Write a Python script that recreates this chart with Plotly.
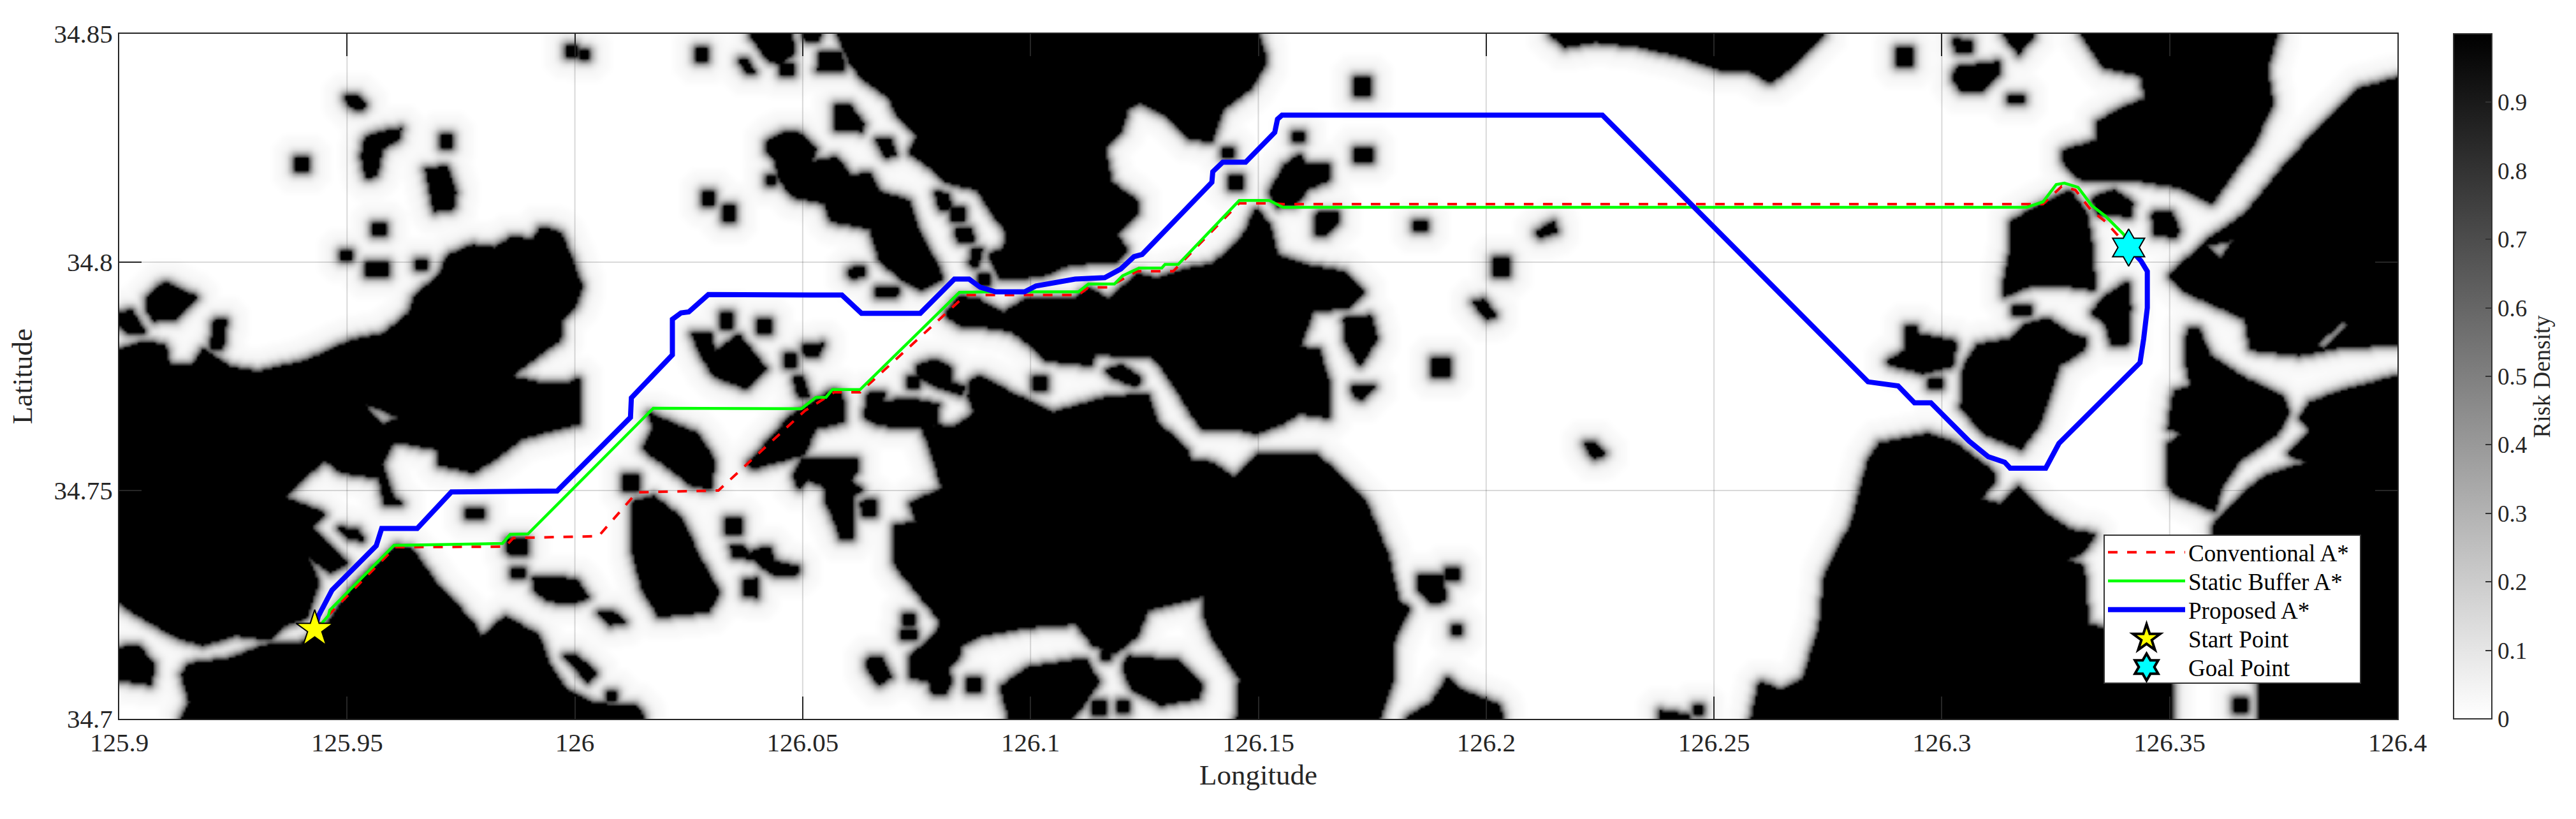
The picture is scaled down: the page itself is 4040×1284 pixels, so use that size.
"""
Risk density map with three A* routes between two points off the Korean coast.

Land outlines and routes were read off the picture, as (x, y) in thousandths of
a degree from the lower left corner of the map (125.9 E, 34.7 N).
"""

import numpy as np
import plotly.graph_objects as go

LON_ORIGIN = 125.9
LAT_ORIGIN = 34.7
LON_TICKS = [125.9, 125.95, 126, 126.05, 126.1, 126.15, 126.2, 126.25, 126.3, 126.35, 126.4]
LAT_TICKS = [34.7, 34.75, 34.8, 34.85]
RISK_TICKS = [0, 0.1, 0.2, 0.3, 0.4, 0.5, 0.6, 0.7, 0.8, 0.9]

# risk by number of grid cells away from the shore
SHORE_RISK = [1, 0.6, 0.36, 0.2, 0.11, 0.06, 0.04, 0.03, 0.025, 0.02, 0.015]

WEST_LAND = [
    (0, 81), (5, 82.6), (10, 82), (11, 77.4), (16, 77.4), (18.4, 81), (24.5, 77), (30.5, 76),
    (41.3, 78.6), (51, 83), (58, 84.3), (63.6, 89), (65, 93), (70, 97), (72, 101.5), (77.5, 103.8),
    (82.3, 103.2), (86, 105.5), (90.7, 105), (92.5, 107.8), (96.7, 106.6), (99, 101.5), (101.5, 94.6),
    (99.8, 90), (97.3, 87.7), (96.7, 83), (92, 79.7), (86, 75), (93, 73.4), (98, 73.4), (101, 74.6),
    (101, 64.8), (96.7, 63.7), (88.3, 61.4), (82.3, 56.8), (77.5, 54), (70.2, 55.7), (70.2, 59),
    (63, 60.3), (60, 60.3), (57.6, 55.7), (60, 48.8), (62.4, 47), (58.2, 47), (57, 52.8), (48.6, 54),
    (45, 56.8), (39.5, 51.7), (36.4, 48.5), (45.2, 45), (42.4, 41.9), (50.4, 34.1), (46.2, 32.2),
    (41.4, 35.5), (43.8, 29.9), (42.4, 26.1), (41, 22), (36.4, 20.6), (32.9, 17.3), (25.7, 18.4),
    (18.4, 16.2), (12.4, 17.9), (6.4, 21.3), (1.6, 24.2), (0, 25.9),
]
SOUTH_LAND = [
    (13.6, 0), (15.4, 3.6), (13.6, 9.9), (15.4, 12.1), (24.5, 13.3), (31.7, 16.2), (40, 16.7), (45.5, 20.7),
    (51, 28.8), (55.8, 33.3), (60.6, 37.9), (64.2, 37.3), (69, 30.5), (72.7, 26.5), (77.5, 21.3),
    (79.3, 17.9), (84.7, 22.5), (92, 18.4), (94.3, 12.1), (98, 6.4), (104, 3.6), (108.8, 3), (113.6, 3),
    (115.4, 0),
]
NORTH_LAND = [
    (157.5, 150), (160.4, 143.4), (163.3, 140), (169, 136), (170.4, 132.5), (175, 127.5), (173.3, 124),
    (177.6, 121), (181.2, 117.5), (188.3, 116), (191.2, 111), (194.8, 106.5), (194, 103), (190.8, 101.7),
    (193.3, 96.3), (202.6, 97), (208.4, 99.5), (219, 100.2), (221.3, 102.5), (219, 106), (223.4, 110.5),
    (223.4, 113.5), (217.7, 117.5), (216.3, 125), (219.8, 128.5), (221.3, 133.5), (224, 135), (229.9, 132),
    (234.9, 127), (239.8, 126.5), (242.2, 133.6), (248.2, 138), (251.8, 143.9), (250, 150),
]
CHANNEL_ISLAND = [
    (181.2, 88.5), (184, 92.5), (188.3, 92), (194, 89), (199, 92), (209.8, 92), (212.7, 94.5), (217, 92),
    (223.4, 97.5), (227.7, 96.5), (233.5, 98.5), (239.8, 99.5), (244.6, 103.8), (247, 106.6), (249.4, 111.8),
    (252.4, 108.4), (254.2, 101.5), (261.4, 99.2), (268.7, 98), (273.5, 93.5), (270, 90), (262, 89.5),
    (259, 81.4), (263.3, 80.9), (265.7, 72.9), (265.7, 66), (259, 67), (255.4, 64.8), (249.4, 62.5),
    (244.6, 63.7), (237.3, 63.7), (235, 67.1), (232.8, 70.7), (229.2, 76.3), (226.3, 79.5), (220.6, 79.5),
    (214.1, 80), (213.4, 77.5), (203.4, 78.5), (199.8, 82), (195.5, 85), (189, 86), (184.7, 86),
]
CENTRAL_ISLAND = [
    (176.2, 63.8), (179.4, 64.3), (183.4, 64.1), (187.7, 67.1), (186.2, 70.7), (186.6, 73.7), (188.4, 75.3),
    (196.3, 71.2), (204.9, 67.1), (215.6, 70.2), (225.6, 71.2), (227.8, 65.1), (234.2, 59), (235, 56.5),
    (239.8, 56.2), (244.6, 52.8), (248.8, 56.8), (249.4, 58), (262.7, 58), (268.7, 52.8), (273.5, 47.7),
    (278.3, 36.2), (280.7, 25.9), (283.1, 24.2), (279.5, 16.7), (279.5, 8.7), (276.5, 0), (245.2, 0),
    (245.8, 8.7), (239.8, 17.9), (238, 22.5), (237.8, 27), (230, 25), (225.6, 23.9), (223.5, 18.3),
    (218.5, 14.3), (213.5, 16.3), (209.9, 20.9), (199.1, 20.1), (189.1, 18.3), (184.8, 16.3), (184.1, 13.2),
    (181.9, 11.2), (182.6, 8.2), (181.2, 5.6), (178.4, 5.6), (177.7, 8.2), (173.4, 9.2), (173.4, 13.8),
    (177.7, 17.3), (179.8, 19.9), (179.8, 21.9), (171.9, 31.5), (169.8, 34.6), (169.8, 42.2), (174.8, 43.2),
    (173.4, 47.3), (180.5, 50.4), (179.1, 55.4),
]
LONG_ISLAND = [
    (142.1, 126.5), (146, 128.5), (148.9, 128.5), (152.9, 125), (151.8, 122), (157.5, 123), (160.4, 119),
    (164.7, 119.5), (166.8, 115.5), (173.3, 113.5), (175.4, 107), (179.7, 99), (180.8, 96.5), (176.1, 94),
    (171.8, 96), (166.8, 100.5), (164.7, 107.5), (156, 109), (154.7, 113), (147.5, 114.5), (144.6, 118.5),
    (143.9, 122.5), (142.1, 124),
]
SOUTHEAST_LAND = [
    (358.1, 0), (359.9, 8.1), (364.7, 6.4), (369.5, 8.7), (373.1, 20.2), (374.3, 31.6), (380.2, 43.1),
    (383.8, 56.8), (386.2, 60.3), (397, 62.5), (403, 60.3), (407.8, 56.8), (411.4, 54), (411.4, 51.7),
    (408.4, 48.2), (412.6, 47.1), (416.8, 51.1), (422.2, 45.4), (428.1, 41.4), (433.6, 40.5), (431, 36.5),
    (427.1, 34.8), (431.1, 33.6), (432.1, 20.6), (435.5, 19.9), (450.3, 8), (450.3, 0),
]
NORTHEAST_LAND = [
    (430.5, 150), (473.6, 150), (471.3, 142.7), (472.5, 134.7), (468.3, 125.5), (464, 119.8), (459.3, 112.9),
    (452, 116.5), (442.5, 118), (430.5, 118.1), (427, 121), (426.3, 124.4), (434.1, 126.7), (434.1, 130.7),
    (438.9, 133.6), (444.7, 135.8), (443.7, 141), (435.3, 142.7),
]
EAST_LAND = [
    (500, 140.4), (491.6, 138.1), (483.2, 130.1), (474.9, 121), (466.5, 110.6), (458.1, 104.9), (449.7, 96.9),
    (453.3, 93.5), (466.5, 87.7), (467.7, 80.9), (478.4, 79.7), (488, 81.5), (500, 82),
]
INLET_LAND = [
    (453.9, 85.5), (456.3, 85.5), (458.7, 79.7), (466.5, 74.6), (474.9, 70.6), (476, 67.1), (473.6, 62.5),
    (468.9, 59.1), (465.3, 56.8), (461.1, 50.5), (459.9, 45.5), (450.9, 49.3), (449.7, 51.1), (449.7, 60.3),
    (452.7, 62.5), (449.7, 63.7), (450.9, 71.7), (454.5, 72.9), (453.3, 79.7),
]
CORNER_LAND = [
    (500, 75.1), (489.2, 72.3), (480.8, 69.4), (478.4, 66), (480.8, 63.1), (476, 58), (480.2, 56.2),
    (471.3, 53.4), (466.5, 49.9), (459.9, 43.1), (459.3, 40.2), (469.5, 7.6), (469.5, 0), (500, 0),
]
GOAL_ISLAND = [
    (407.8, 82), (415, 83.2), (418.6, 86.6), (423.4, 87.7), (428.1, 84.3), (431.7, 83.2), (431.1, 80.9),
    (425.7, 77.4), (423.4, 70.6), (421.6, 64.8), (417.4, 59.1), (409, 62.5), (404.2, 68.3), (404.8, 77.4),
]
NORTH_SHORE = [
    (313.9, 150), (317, 147.2), (324, 148.3), (333.7, 147.2), (343.4, 144.9), (351.5, 142), (357.5, 142.2),
    (362.3, 139.3), (367, 142.7), (371.8, 147.3), (374.3, 150),
]

SMALL_ISLANDS = [
    [(0, 15.6), (4, 16.2), (7.6, 12.1), (7, 7.6), (3.4, 8.1), (0, 8.7)],
    [(5.8, 92.3), (10, 95.8), (17.2, 92.3), (12.4, 87.7), (7.6, 87.2), (5.8, 89.5)],
    [(0, 88.9), (2.8, 89.5), (5.8, 84.3), (2.2, 84.3), (0, 86)],
    [(20.8, 87.5), (23.5, 87.7), (22.6, 81.1), (19.9, 81.1)],
    [(49.2, 136.4), (52.2, 136.4), (54.3, 134.7), (53.4, 133.3), (50.4, 134.1)],
    [(54, 127.5), (58.2, 128.7), (61.8, 129.3), (61.2, 127), (57.6, 124.7), (56.4, 118.9), (54, 118.4), (53.1, 123.4)],
    [(67.2, 120.4), (72, 121), (73.8, 115.2), (73.2, 111.8), (69, 111.2), (67.8, 117)],
    [(48, 41.9), (52.2, 41.4), (53.9, 39), (50.4, 39.6)],
    [(84.7, 39.6), (89.5, 39.6), (89.5, 36.2), (85.3, 36.2)],
    [(90.7, 31), (95.5, 31), (100.4, 30.5), (103, 26.5), (99.2, 25.3), (94.3, 25.9), (91.3, 27.6)],
    [(104.6, 23.6), (108.2, 23.6), (111.2, 21.3), (107.6, 20.7)],
    [(97.3, 13.9), (100.4, 13.9), (104.9, 9.9), (102.8, 8.1)],
    [(112.4, 47.6), (117.2, 48.8), (123.3, 44.2), (126.9, 36.2), (131.7, 27.6), (129.3, 23.6), (118.4, 22.5), (114.8, 28.2), (112.4, 37.3)],
    [(116, 67.1), (121.4, 64.8), (126.9, 62.5), (130.5, 56.8), (129.9, 50.5), (125.7, 51), (119.6, 55.7), (114.8, 59.1), (117.2, 63.7)],
    [(125.7, 84.3), (129.9, 84.3), (130.5, 80.3), (135.9, 84.3), (139.5, 79.7), (141.9, 76.9), (137.7, 72.3), (130.5, 75.1), (127.5, 79.7)],
    [(149.8, 82), (154.7, 82.3), (153.2, 79.3), (150.4, 79.5)],
    [(147.9, 74.8), (150, 74.8), (151.5, 70.5), (149, 70.5)],
    [(138.2, 150), (147.5, 150), (148.2, 146), (145.3, 143.5), (142.5, 144), (140, 147.5)],
    [(135.7, 144.7), (137.5, 144.7), (139.5, 141.5), (137.5, 141.5)],
    [(153.6, 146.2), (158.6, 146.2), (159, 142.2), (153.2, 142.2)],
    [(149.6, 150), (154, 150), (153.2, 148.4), (150.7, 148.4)],
    [(157.2, 134.7), (160.4, 134.4), (163.3, 130.4), (162.9, 128.7), (157.2, 129.2)],
    [(166, 127.2), (169.3, 127.2), (170.4, 123.5), (167.9, 123)],
    [(179, 115.5), (181.9, 115), (182.6, 112), (180, 111.2)],
    [(183.3, 107.5), (186.9, 107.7), (187.6, 104.7), (184, 104.7)],
    [(187.2, 103.2), (189.4, 103), (188.3, 99), (186.5, 99.3)],
    [(159.7, 98.5), (163.6, 99.3), (163.6, 97.3), (160.4, 96.3)],
    [(165.8, 94.3), (170.8, 94.5), (170.8, 92.8), (165.8, 92.3)],
    [(164.4, 71.7), (168.3, 71.5), (167.3, 69.4), (173.4, 70.2), (179.8, 68.9), (179.4, 64.3), (171.9, 63.8), (166.2, 64.6), (163.3, 66.1), (164, 69.2)],
    [(156.9, 72.2), (158.7, 71.2), (159, 65.1), (152.6, 63.6), (150.4, 58), (139, 54.9), (138, 56), (146.9, 66.1), (153.3, 70.2)],
    [(149.7, 57), (161.9, 57), (161.9, 54.4), (160.5, 52), (163, 50.4), (161.2, 48.8), (160.8, 43.7), (161.2, 39.7), (158.3, 39.4), (157.2, 42.7), (155.1, 47.3), (154.7, 50.9), (151, 52.4), (149, 50.4), (147.9, 53.4)],
    [(162.6, 47.6), (166.2, 48.1), (166.2, 44.8), (163, 44.3)],
    [(134, 38.2), (136.8, 38.2), (138.3, 36.1), (139.7, 37.1), (142.9, 37.6), (143.6, 34.6), (149, 33.3), (148.6, 31.3), (142.9, 31.8), (139, 35.1), (134.7, 35.6)],
    [(136.8, 30.5), (140, 30.8), (140, 26.7), (136.8, 27)],
    [(174.8, 77.3), (179.1, 78.8), (182.7, 76.8), (182.7, 73.7), (185.5, 72.7), (184.8, 70.9), (179.8, 72.7), (175.5, 74.8)],
    [(216.3, 76.3), (219.9, 77.6), (224.2, 74.8), (223.5, 72.7), (217.8, 74.8)],
    [(193.4, 7.1), (199.1, 11.2), (212, 13.2), (214.9, 8.2), (211.3, 2.6), (208.5, 0), (195.2, 0)],
    [(221.3, 13.8), (232.8, 12.7), (237.5, 7.7), (237.1, 4.6), (228.5, 3.1), (222, 6.6), (220.3, 11.2)],
    [(163.7, 13.2), (167.3, 13.5), (169.4, 9.2), (166.5, 7.4), (164.4, 10.7)],
    [(268.7, 87.7), (274.7, 88.3), (275.9, 83.2), (272.3, 77.4), (269.3, 82)],
    [(270.5, 73), (275.9, 73), (273, 70), (271, 70.5)],
    [(262.7, 110.7), (267.5, 111.2), (267.5, 109), (265, 106), (262.7, 106.2)],
    [(255.4, 121), (259, 123.8), (260.2, 121.4), (265.6, 121.4), (265.6, 118), (260.8, 116.2), (258.4, 112.8), (254.2, 112.2), (252.4, 115.1)],
    [(285, 31.6), (290.4, 31.6), (291, 25.9), (288, 25.3), (285, 28.2)],
    [(281.9, 0), (287.9, 3.6), (291.6, 9.3), (294.6, 6.4), (303, 3), (303.6, 0)],
    [(338, 1.8), (344.6, 0.9), (344.6, 0), (338, 0)],
    [(297, 91.2), (299.4, 91.8), (302.4, 88.3), (300, 87.5)],
    [(321.4, 60.5), (324, 60.5), (326.5, 58), (323.5, 57)],
    [(310.8, 106.7), (315, 109), (315.4, 106.7), (312, 105.5)],
    [(402.4, 149), (406.6, 148.4), (406.6, 146.2), (403, 146.2)],
    [(403, 142.7), (412.6, 143.9), (412.6, 141.6), (409, 137.6), (404.2, 137.6), (402.4, 139.9)],
    [(413.2, 150), (420.4, 150), (416.8, 145.6), (415, 147.9)],
    [(415, 109), (422.2, 112.9), (428.1, 115.8), (431.7, 110.7), (432.9, 103.8), (433.5, 94), (425.7, 95.2), (419.8, 95.2), (413.2, 92.3), (413.8, 96.9), (415, 102.6)],
    [(432.9, 114.1), (437.7, 115.8), (441.9, 113), (441.3, 110), (436.5, 110.7), (434.1, 110.7)],
    [(446.1, 110.7), (450.3, 111.2), (451.9, 107.2), (451.5, 105.5), (446.7, 106.1)],
    [(440.7, 95.8), (441.3, 90), (440.7, 82), (437.1, 82), (435.9, 86.6), (432.9, 88.9), (435.3, 92.3)],
    [(392.2, 86), (394.6, 86), (394.6, 84.3), (403, 82.6), (402.4, 77.4), (395.8, 75.7), (387.4, 78), (392.2, 80.9)],
]

# gray channels that cut into the land
CHANNELS = [
    [(54, 69), (58, 67.5), (61.5, 66), (58, 64.5), (55.5, 66.5)],
    [(458.1, 103.8), (464, 104.9), (461, 100.6)],
    [(482, 82), (488, 87), (489, 86.5), (484, 81)],
]

# small square islets: centre x, centre y, width, height
ISLET_X = [71.6, 39.8, 57, 49.8, 56.6, 66.4, 99.2, 102.2, 127.8, 142.8, 129.2, 133.7, 184, 189.8, 134.7, 133.2, 141.4, 147.1, 174.1, 202, 214.9, 220.3, 216.3, 187.7, 173.4, 173.4, 112.4, 78, 87.7, 108, 243.4, 245, 272.9, 258.7, 272.9, 285.5, 303.4, 290, 292.5, 293.6, 346.4, 391.6, 416.2, 417.4, 398.6, 465.3, 146.4]
ISLET_Y = [126.5, 121.4, 107.4, 101.3, 98.5, 99.5, 146.2, 145.4, 145.4, 118.2, 114, 110.7, 110.5, 96.3, 42.2, 87.4, 85.8, 78.5, 73.7, 73.5, 2.6, 2.6, 14, 7.7, 21.9, 18.6, 51.7, 45, 32.2, 4.9, 124, 117.5, 138.5, 127.5, 123.6, 108.1, 99, 77.2, 31.6, 19.4, 1.8, 144.9, 135.8, 89.5, 73.7, 3, 142.2]
ISLET_W = [2.6, 3, 2.5, 2.5, 5, 2.5, 2.5, 2, 2.8, 2, 2.5, 2.4, 2.8, 2.8, 3.5, 2.5, 3, 2.5, 2.6, 2.8, 3, 2.5, 2, 3, 2.6, 3.5, 3.5, 3.5, 3, 2, 2.5, 2.8, 3.5, 2.5, 4, 2.8, 3.5, 4, 2.5, 2, 2, 3.5, 3.5, 4, 3, 3, 2.8]
ISLET_H = [2.6, 3, 2.5, 2, 2.6, 2, 2.5, 2, 2.8, 2, 3, 3.5, 2.8, 2.8, 3.5, 3.6, 3, 2.5, 2.6, 2.8, 3, 2.5, 2, 3, 2.6, 2, 3.5, 2, 2, 2, 2, 2.8, 3.5, 2, 3, 2, 3.5, 4, 2.5, 2, 2, 4, 1.5, 2, 2, 3, 2.5]

START_X, START_Y = 42.9, 19.6
GOAL_X, GOAL_Y = 441, 103.2

CONVENTIONAL_X = [42.9, 46.3, 60.6, 84.7, 86.5, 105.2, 113.6, 131.5, 150.4, 154, 156.9, 162.6, 185.8, 210.5, 212.7, 217, 223.4, 231.3, 245.8, 252.4, 255.4, 422.2, 426.3, 429.3, 432.9, 435.9, 441]
CONVENTIONAL_Y = [19.6, 23.1, 37.6, 37.7, 39.6, 40, 49.6, 50, 67.4, 69.7, 71.5, 71.5, 92.8, 92.8, 94.5, 94.5, 98, 98, 112.9, 112.9, 112.7, 112.7, 116.6, 115.8, 111.2, 108.9, 103.2]
STATIC_X = [42.9, 44.5, 45.9, 46.2, 60.3, 80.6, 84.1, 85.8, 89.7, 117.2, 149.7, 152.9, 155.1, 156.5, 162.6, 184.4, 191.2, 210.5, 212.7, 218.4, 220.2, 223.8, 228.8, 229.5, 232.4, 245.8, 252.4, 255.4, 418.6, 422.2, 425.1, 426.9, 429.9, 432.9, 435.9, 439.9, 441]
STATIC_Y = [19.6, 21, 22.6, 23.8, 38, 38.3, 38.4, 40.4, 40.5, 68, 67.9, 70.4, 70.4, 72.1, 72.1, 93.4, 93.5, 93.5, 95.2, 95.2, 97, 98.7, 98.7, 99.5, 99.5, 113.5, 113.5, 112, 112, 113.2, 117, 117.3, 116.4, 112.4, 110.1, 106.1, 103.2]
PROPOSED_X = [42.9, 43.7, 46.7, 56.4, 57.6, 65.4, 72.9, 96.1, 112.2, 112.4, 121.4, 121.4, 123.3, 125, 129.3, 158.6, 162.9, 175.8, 183.3, 186.5, 189, 192.3, 198.7, 201.2, 209.8, 216.3, 219.8, 222.7, 224.5, 239.8, 240, 242.2, 247.2, 253.6, 254.2, 255.2, 325.5, 383.8, 390.4, 394, 397.6, 406, 410.2, 413.8, 415, 422.8, 425.7, 443.5, 444.3, 445.1, 445.1, 443.7, 441]
PROPOSED_Y = [19.6, 22.5, 28.2, 37.9, 41.7, 41.7, 49.7, 49.9, 66, 70.3, 79.7, 87.5, 88.9, 89.1, 92.9, 92.8, 88.8, 88.8, 96.3, 96.3, 94.5, 93.5, 93.5, 94.8, 96.3, 96.6, 98.5, 101.2, 101.7, 117.5, 119.8, 121.9, 121.9, 128.4, 131.3, 132.2, 132.2, 73.8, 72.9, 69.2, 69.2, 60.8, 57.4, 56.2, 54.9, 54.9, 60.3, 78, 83.2, 90, 98, 100.3, 103.2]


def to_lon(x):
    return LON_ORIGIN + np.asarray(x, dtype=float) / 1000


def to_lat(y):
    return LAT_ORIGIN + np.asarray(y, dtype=float) / 1000


def fill_outline(mask, xs, ys, outline, value=True):
    # even-odd test of the grid cell centres against one closed outline
    inside = np.zeros(mask.shape, dtype=bool)
    for (x1, y1), (x2, y2) in zip(outline, outline[1:] + outline[:1]):
        if y1 == y2:
            continue
        crosses = (y1 > ys) != (y2 > ys)
        inside ^= crosses & (xs < x1 + (ys - y1) / (y2 - y1) * (x2 - x1))
    mask[inside] = value


def grow(reached, diagonal):
    grown = reached.copy()
    grown[1:, :] |= reached[:-1, :]
    grown[:-1, :] |= reached[1:, :]
    grown[:, 1:] |= reached[:, :-1]
    grown[:, :-1] |= reached[:, 1:]
    if diagonal:
        grown[1:, 1:] |= reached[:-1, :-1]
        grown[:-1, :-1] |= reached[1:, 1:]
        grown[1:, :-1] |= reached[:-1, 1:]
        grown[:-1, 1:] |= reached[1:, :-1]
    return grown


def soften(values):
    # 3x3 average, edges repeated
    padded = np.pad(values, 1, mode="edge")
    total = sum(padded[1 + dy:padded.shape[0] - 1 + dy, 1 + dx:padded.shape[1] - 1 + dx]
                for dy in (-1, 0, 1) for dx in (-1, 0, 1))
    return total / 9


def build_risk_grid():
    # 0.0005 degree cells
    x_cells = (np.arange(1000) + 0.5) * 0.5
    y_cells = (np.arange(300) + 0.5) * 0.5
    xs, ys = np.meshgrid(x_cells, y_cells)
    land = np.zeros(xs.shape, dtype=bool)
    big_lands = [WEST_LAND, SOUTH_LAND, NORTH_LAND, CHANNEL_ISLAND, CENTRAL_ISLAND, LONG_ISLAND,
                 SOUTHEAST_LAND, NORTHEAST_LAND, EAST_LAND, INLET_LAND, CORNER_LAND, GOAL_ISLAND, NORTH_SHORE]
    for outline in big_lands + SMALL_ISLANDS:
        fill_outline(land, xs, ys, outline)
    for x, y, w, h in zip(ISLET_X, ISLET_Y, ISLET_W, ISLET_H):
        land[(np.abs(xs - x) <= w / 2) & (np.abs(ys - y) <= h / 2)] = True
    for outline in CHANNELS:
        fill_outline(land, xs, ys, outline, value=False)

    risk = np.zeros(land.shape)
    reached = land.copy()
    risk[reached] = SHORE_RISK[0]
    for step, level in enumerate(SHORE_RISK[1:]):
        # alternating the neighbourhood keeps the rings from turning into diamonds
        grown = grow(reached, diagonal=step % 2 == 1)
        risk[grown & ~reached] = level
        reached = grown
    risk = soften(risk)
    risk[land] = 1
    return to_lon(x_cells), to_lat(y_cells), np.round(risk, 3)


def route_trace(name, x, y, color, width, dash="solid"):
    return go.Scatter(
        x=to_lon(x), y=to_lat(y), mode="lines", name=name,
        line=dict(color=color, width=width, dash=dash), hoverinfo="skip")


lons, lats, risk = build_risk_grid()

FONT = "Liberation Serif"
TEXT_COLOR = "#262626"

fig = go.Figure()
fig.add_trace(go.Heatmap(
    x=lons, y=lats, z=risk, zmin=0, zmax=1, zsmooth="best",
    colorscale=[[0, "#ffffff"], [1, "#000000"]], showlegend=False, hoverinfo="skip",
    colorbar=dict(
        x=1.0246, xanchor="left", xpad=0, y=0.5, len=1, ypad=0, thickness=60,
        tickvals=RISK_TICKS, ticktext=[str(t) for t in RISK_TICKS],
        ticks="inside", ticklen=11, tickwidth=2, tickcolor="#333333",
        outlinewidth=2, outlinecolor="#333333",
        tickfont=dict(family=FONT, size=37, color=TEXT_COLOR))))

# grid has to sit over the heatmap, so it is a trace and not the axis grid
grid_x, grid_y = [], []
for lon in LON_TICKS[1:-1]:
    grid_x += [lon, lon, None]
    grid_y += [LAT_TICKS[0], LAT_TICKS[-1], None]
for lat in LAT_TICKS[1:-1]:
    grid_x += [LON_TICKS[0], LON_TICKS[-1], None]
    grid_y += [lat, lat, None]
fig.add_trace(go.Scatter(
    x=grid_x, y=grid_y, mode="lines", showlegend=False, hoverinfo="skip",
    line=dict(color="rgba(0,0,0,0.15)", width=2)))

fig.add_trace(route_trace("Conventional A*", CONVENTIONAL_X, CONVENTIONAL_Y, "#ff0000", 4, "15px,15px"))
fig.add_trace(route_trace("Static Buffer A*", STATIC_X, STATIC_Y, "#00ff00", 4.5))
fig.add_trace(route_trace("Proposed A*", PROPOSED_X, PROPOSED_Y, "#0000ff", 8))
fig.add_trace(go.Scatter(
    x=to_lon([START_X]), y=to_lat([START_Y]), mode="markers", name="Start Point", hoverinfo="skip",
    marker=dict(symbol="star", size=44, color="#ffff00", line=dict(color="#000000", width=2))))
fig.add_trace(go.Scatter(
    x=to_lon([GOAL_X]), y=to_lat([GOAL_Y]), mode="markers", name="Goal Point", hoverinfo="skip",
    marker=dict(symbol="hexagram", size=44, color="#00ffff", line=dict(color="#000000", width=2))))

axis_style = dict(
    showgrid=False, zeroline=False, showline=True, linecolor="#262626", linewidth=2, mirror="ticks",
    ticks="inside", ticklen=35, tickwidth=2, tickcolor="#262626",
    tickfont=dict(family=FONT, size=41, color=TEXT_COLOR))

fig.update_layout(
    width=4040, height=1284,
    margin=dict(l=187, r=280, t=53, b=157),
    paper_bgcolor="white", plot_bgcolor="white",
    xaxis=dict(range=[LON_TICKS[0], LON_TICKS[-1]], tickvals=LON_TICKS,
               ticktext=[str(t) for t in LON_TICKS],
               title=dict(text="Longitude", standoff=12, font=dict(family=FONT, size=45, color=TEXT_COLOR)),
               **axis_style),
    yaxis=dict(range=[LAT_TICKS[0], LAT_TICKS[-1]], tickvals=LAT_TICKS,
               ticktext=[str(t) for t in LAT_TICKS],
               title=dict(text="Latitude", standoff=20, font=dict(family=FONT, size=45, color=TEXT_COLOR)),
               **axis_style),
    legend=dict(
        x=(3299 - 187) / 3573, xanchor="left", y=0.2693, yanchor="top", bgcolor="white",
        bordercolor="#333333", borderwidth=2, itemwidth=121, tracegroupgap=0,
        font=dict(family=FONT, size=37, color="#000000")),
    annotations=[dict(
        text="Risk Density", textangle=-90, x=(4008 - 187) / 3573, y=(1127 - 590) / 1074,
        xref="paper", yref="paper", showarrow=False,
        font=dict(family=FONT, size=37, color=TEXT_COLOR))],
)

# plotly caps legend markers at 16 px and fixes the row height, the reference
# has bigger stars and tighter rows, so both are adjusted once the page is drawn
post_js = """
document.body.style.margin = '0';
document.querySelectorAll('.legend .legendpoints path.scatterpts').forEach(function (p) {
  p.setAttribute('transform', (p.getAttribute('transform') || '') + ' scale(2)');
});
document.querySelectorAll('.legend .traces').forEach(function (t, i) {
  t.setAttribute('transform', 'translate(2,' + (28 + 45 * i) + ')');
});
document.querySelectorAll('.legend rect.bg').forEach(function (r) {
  r.setAttribute('width', 402);
  r.setAttribute('height', 232);
});
document.querySelectorAll('.legend .scrollbox rect, .legend clipPath rect').forEach(function (r) {
  r.setAttribute('width', 402);
  r.setAttribute('height', 232);
});
"""
fig.write_html("out.html", post_script=post_js, config={"displayModeBar": False})
